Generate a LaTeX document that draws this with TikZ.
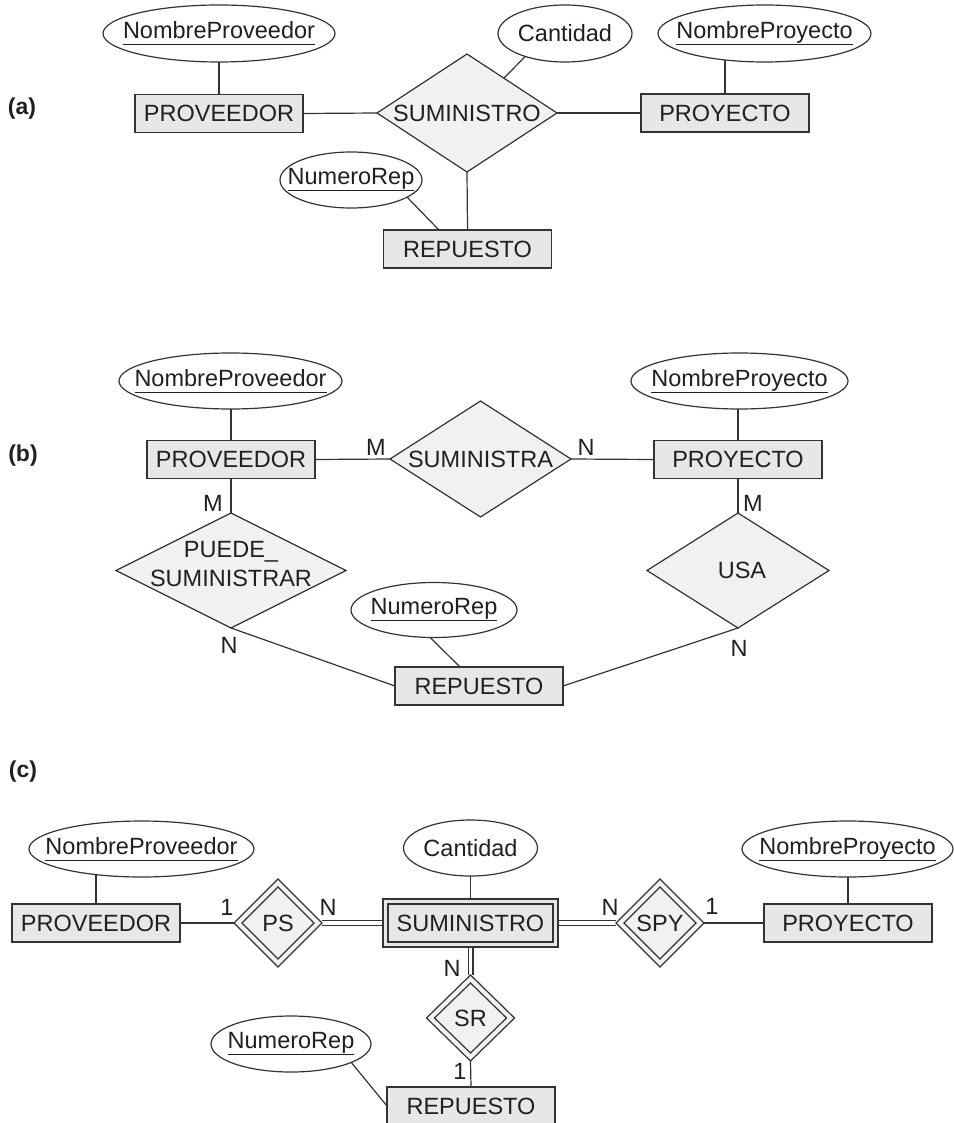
\documentclass[tikz,border=0pt]{standalone}
\usepackage{fontspec}
\setmainfont{Liberation Sans}
\usetikzlibrary{shapes.geometric,calc}
\definecolor{lc}{HTML}{333333}
\definecolor{tc}{HTML}{231F20}
\definecolor{entfill}{HTML}{E6E7E8}
\definecolor{relfill}{HTML}{F1F1F2}
\newcommand\erfont{\fontsize{23.5}{29}\selectfont}
\newcommand\cdfont{\fontsize{23.5}{28}\selectfont}
\newcommand\keyattr[1]{\setbox0\hbox{#1}\rlap{\rule[-6.5pt]{\wd0}{1.1pt}}\box0}
\pgfdeclarelayer{background}
\pgfsetlayers{background,main}
\begin{document}
\begin{tikzpicture}[x=1pt,y=-1pt,
  base/.style={draw=lc, line width=1.2pt, inner sep=0pt, outer sep=0pt},
  ent/.style={base, rectangle, fill=entfill, minimum width=168pt, minimum height=38pt, font=\erfont, text=tc},
  rel/.style={base, diamond, fill=relfill},
  inrel/.style={base, diamond},
  attr/.style={base, ellipse, fill=white},
  ctext/.style={font=\erfont, text=tc, inner sep=0pt, align=center},
  card/.style={font=\cdfont, text=tc, inner sep=0pt},
  sect/.style={font=\bfseries\fontsize{23}{26}\selectfont, text=tc, inner sep=0pt},
  conn/.style={draw=lc, line width=1.2pt},
  dconn/.style={draw=lc, line width=1.1pt, double=white, double distance=3.8pt}]
\useasboundingbox (0,0) rectangle (953,1123);

% ---------------- (a) ----------------
\node[sect] (la) at (22,109) {(a)};
\node[attr, minimum width=232pt, minimum height=57pt, label={[ctext]center:\keyattr{NombreProveedor}}] (npa) at (219,33.5) {};
\node[ent] (prova) at (219,113.5) {PROVEEDOR};
\node[rel, minimum width=180pt, minimum height=118pt, label={[ctext]center:SUMINISTRO}] (suma) at (467,113) {};
\node[attr, minimum width=134pt, minimum height=57pt, label={[ctext]center:Cantidad}] (canta) at (565,33.5) {};
\node[ent] (proya) at (725,113) {PROYECTO};
\node[attr, minimum width=213pt, minimum height=57pt, label={[ctext]center:\keyattr{NombreProyecto}}] (nya) at (764.5,33.5) {};
\node[attr, minimum width=142pt, minimum height=56pt, label={[ctext]center:\keyattr{NumeroRep}}] (nra) at (351,180) {};
\node[ent] (repa) at (467.5,249) {REPUESTO};

% ---------------- (b) ----------------
\node[sect] (lb) at (23,456) {(b)};
\node[attr, minimum width=223pt, minimum height=56pt, label={[ctext]center:\keyattr{NombreProveedor}}] (npb) at (230.5,381) {};
\node[ent] (provb) at (231,459.5) {PROVEEDOR};
\node[rel, minimum width=181pt, minimum height=116pt, label={[ctext]center:SUMINISTRA}] (sumb) at (480.5,459) {};
\node[ent] (proyb) at (738,459.5) {PROYECTO};
\node[attr, minimum width=217pt, minimum height=56pt, label={[ctext]center:\keyattr{NombreProyecto}}] (nyb) at (739.5,381) {};
\node[rel, minimum width=230pt, minimum height=115pt, label={[ctext, yshift=6pt]center:PUEDE\_\\SUMINISTRAR}] (pueb) at (231,570.5) {};
\node[rel, minimum width=182pt, minimum height=115pt, label={[ctext, xshift=4pt]center:USA}] (usa) at (738,570.5) {};
\node[attr, minimum width=166pt, minimum height=55pt, label={[ctext]center:\keyattr{NumeroRep}}] (nrb) at (434,610) {};
\node[ent] (repb) at (479,686) {REPUESTO};

\node[card] (mb1) at (376,447) {M};
\node[card] (nb1) at (586,447) {N};
\node[card] (mb2) at (213,503) {M};
\node[card] (nb2) at (229,645) {N};
\node[card] (mb3) at (753,503) {M};
\node[card] (nb3) at (739,648) {N};

% ---------------- (c) ----------------
\node[sect] (lc) at (23,772) {(c)};
\node[attr, minimum width=225pt, minimum height=56pt, label={[ctext]center:\keyattr{NombreProveedor}}] (npc) at (141.5,849) {};
\node[ent] (provc) at (96,923) {PROVEEDOR};
\node[rel, minimum width=88pt, minimum height=88pt] (ps) at (278,923) {};
\node[inrel, minimum width=72pt, minimum height=72pt, label={[ctext]center:PS}] (psi) at (278,923) {};
\node[base, rectangle, fill=entfill, minimum width=175pt, minimum height=48pt] (sc) at (470.5,923) {};
\node[base, rectangle, minimum width=165pt, minimum height=38pt, font=\erfont, text=tc] (sci) at (470.5,923) {SUMINISTRO};
\node[attr, minimum width=134pt, minimum height=56pt, label={[ctext]center:Cantidad}] (cantc) at (470.5,848) {};
\node[rel, minimum width=88pt, minimum height=88pt] (spy) at (660,923) {};
\node[inrel, minimum width=72pt, minimum height=72pt, label={[ctext]center:SPY}] (spyi) at (660,923) {};
\node[ent] (proyc) at (848,923) {PROYECTO};
\node[attr, minimum width=211pt, minimum height=56pt, label={[ctext]center:\keyattr{NombreProyecto}}] (nyc) at (847.5,849) {};
\node[rel, minimum width=88pt, minimum height=86pt] (sr) at (470.5,1018) {};
\node[inrel, minimum width=72pt, minimum height=70pt, label={[ctext]center:SR}] (sri) at (470.5,1018) {};
\node[attr, minimum width=160pt, minimum height=56pt, label={[ctext]center:\keyattr{NumeroRep}}] (nrc) at (291,1044) {};
\node[ent] (repc) at (471,1106) {REPUESTO};

\node[card] (c1) at (227,907) {1};
\node[card] (c2) at (328,907) {N};
\node[card] (c3) at (610,907) {N};
\node[card] (c4) at (712,906) {1};
\node[card] (c5) at (452,968) {N};
\node[card] (c6) at (460,1071) {1};

% ---------------- connectors ----------------
\begin{pgfonlayer}{background}
  % (a)
  \draw[conn] (prova.north) -- (prova.north |- npa.center);
  \draw[conn] (prova.east) -- (suma.west);
  \draw[conn] (suma.east) -- (proya.west);
  \draw[conn] (canta.210) -- ($(suma.north)!0.41!(suma.east)$);
  \draw[conn] (proya.north) -- (proya.north |- nya.center);
  \draw[conn] (suma.south) -- (repa.north);
  \draw[conn] (nra.-17) -- ($(repa.north west)!0.33!(repa.north east)$);
  % (b)
  \draw[conn] (provb.north) -- (provb.north |- npb.center);
  \draw[conn] (provb.east) -- (sumb.west);
  \draw[conn] (sumb.east) -- (proyb.west);
  \draw[conn] (proyb.north) -- (proyb.north |- nyb.center);
  \draw[conn] (provb.south) -- (pueb.north);
  \draw[conn] (pueb.south) -- (repb.west);
  \draw[conn] (proyb.south) -- (usa.north);
  \draw[conn] (usa.south) -- (repb.east);
  \draw[conn] (nrb.262) -- ($(repb.north west)!0.387!(repb.north east)$);
  % (c)
  \draw[conn] (provc.north) -- (provc.north |- npc.center);
  \draw[conn] (provc.east) -- (ps.west);
  \draw[dconn] (ps.east) -- (sc.west);
  \draw[conn] (sc.north) -- (cantc.center);
  \draw[dconn] (sc.east) -- (spy.west);
  \draw[conn] (spy.east) -- (proyc.west);
  \draw[conn] (proyc.north) -- (proyc.north |- nyc.center);
  \draw[dconn] (sc.south) -- (sr.north);
  \draw[conn] (sr.south) -- (repc.north);
  \draw[conn] (nrc.-17) -- (repc.west);
\end{pgfonlayer}
\end{tikzpicture}
\end{document}
